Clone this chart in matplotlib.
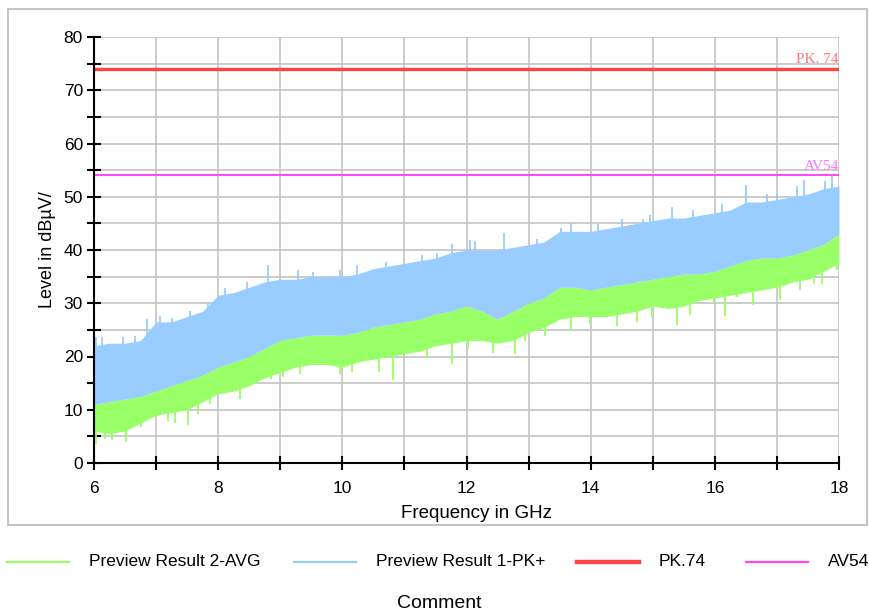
import matplotlib
matplotlib.use("Agg")
import matplotlib.pyplot as plt
import numpy as np
from matplotlib.patches import Rectangle
from matplotlib.lines import Line2D

plt.rcParams['font.family'] = ['Liberation Sans', 'DejaVu Sans']

freq = [6.0, 6.25, 6.5, 6.75, 7.0, 7.25, 7.5, 7.75, 8.0, 8.25, 8.5, 8.75,
        9.0, 9.25, 9.5, 9.75, 10.0, 10.25, 10.5, 10.75, 11.0, 11.25, 11.5, 11.75,
        12.0, 12.25, 12.5, 12.75, 13.0, 13.25, 13.5, 13.75, 14.0, 14.25, 14.5, 14.75,
        15.0, 15.25, 15.5, 15.75, 16.0, 16.25, 16.5, 16.75, 17.0, 17.25, 17.5, 17.75, 18.0]

# Preview Result 1-PK+ : upper envelope
pk_hi = [22, 22.5, 22.5, 23, 26.5, 26.5, 27.5, 28.5, 31.5, 32, 33, 34,
         34.5, 34.5, 35, 35, 35, 35.5, 36.5, 37, 37.5, 38, 38.5, 39.5,
         40, 40, 40, 40.5, 41, 41.5, 43.5, 43.5, 43.5, 44, 44.5, 45,
         45.5, 46, 46, 46.5, 47, 47.5, 49, 49, 49.5, 50, 50.5, 51.5, 52]
# boundary between PK+ (above) and AVG (below)
pk_lo = [11, 11.5, 12, 12.5, 13.5, 14.5, 15.5, 16.5, 18, 19, 20, 21.5,
         23, 23.5, 24, 24, 24, 24.5, 25.5, 26, 26.5, 27, 28, 28.5,
         29.5, 28.5, 27, 28.5, 30, 31, 33, 33, 32.5, 33, 33.5, 34,
         34.5, 35, 35.5, 35.5, 36, 37, 38, 38.5, 38.5, 39, 40, 41, 43]
# Preview Result 2-AVG : lower envelope
avg_lo = [6, 5.5, 6, 7.5, 9, 9.5, 10, 11.5, 13, 13.5, 14.5, 16,
          17, 18, 18.5, 18.5, 18, 19, 19.5, 20, 20.5, 21, 22, 22.5,
          23, 23, 22.5, 23, 24.5, 25.5, 27, 27.5, 27.5, 27.5, 28, 28.5,
          29.5, 29, 29.5, 30.5, 31, 31.5, 32, 32.5, 33, 34, 34.5, 36, 37.5]

# individual spikes
pk_spike_f = [6.04, 6.13, 6.47, 6.66, 6.85, 7.06, 7.25, 7.55, 7.84, 8.11, 8.46, 8.80,
              9.29, 9.53, 9.97, 10.24, 10.71, 11.28, 11.52, 11.77, 12.06,
              12.14, 12.61, 13.13, 13.53, 13.69, 14.12, 14.50, 14.85, 14.96,
              15.31, 15.65, 16.11, 16.51, 16.84, 17.0, 17.32, 17.43, 17.78, 17.88]
pk_spike_v = [23.7, 23.6, 23.7, 23.9, 27.1, 27.6, 27.2, 28.6, 30.1, 32.9, 33.9, 37.1,
              36.2, 35.9, 36.2, 37.2, 37.7, 39.0, 39.4, 41.2, 41.8,
              41.7, 43.1, 42.1, 44.2, 45.1, 44.9, 45.8, 45.8, 46.6,
              48.0, 47.5, 48.6, 52.2, 50.5, 50.6, 52.1, 53.1, 53.0, 53.9]
avg_spike_f = [6.04, 6.18, 6.29, 6.52, 6.75, 7.02, 7.19, 7.31, 7.51, 7.68, 7.87, 8.35, 8.85,
               9.05, 9.32, 9.96, 10.15, 10.59, 10.82, 11.36, 11.77,
               12.03, 12.43, 12.78, 12.94, 13.26, 13.69, 13.99, 14.42, 14.74,
               14.98, 15.39, 15.6, 15.98, 16.17, 16.35, 16.62, 17.05, 17.37, 17.59, 17.72, 17.96]
avg_spike_v = [3.6, 4.5, 4.3, 3.9, 6.7, 8.9, 7.8, 7.6, 7.1, 9.2, 11.1, 12.0, 15.7,
               16.1, 16.7, 16.7, 17.0, 17.0, 15.6, 19.8, 18.6,
               21.4, 20.6, 20.4, 23.0, 23.9, 24.9, 26.1, 25.8, 26.4,
               27.5, 25.9, 27.8, 30.0, 27.6, 31.2, 29.7, 30.6, 32.5, 33.7, 33.7, 36.2]

limit_pk = 74
limit_av = 54

c_green = '#99ff66'
c_blue = '#99ccff'
c_red = '#ff4444'
c_mag = '#ff44ff'

fig = plt.figure(figsize=(8.69, 6.12), dpi=100)
W, H = 869.0, 612.0

# outer frame
fig.patches.append(Rectangle((8/W, 1-525/H), (867-8)/W, (525-9)/H,
                             transform=fig.transFigure, fill=False,
                             edgecolor='#c4c4c4', linewidth=1.5))

ax = fig.add_axes([94/W, 1-463/H, (839-94)/W, (463-37)/H])

ax.fill_between(freq, avg_lo, pk_lo, color=c_green, linewidth=0, zorder=2)
g_base = np.interp(avg_spike_f, freq, avg_lo) + 1.0
ax.vlines(avg_spike_f, avg_spike_v, g_base, color=c_green, linewidth=1.3, zorder=2)
ax.fill_between(freq, pk_lo, pk_hi, color=c_blue, linewidth=0, zorder=3)
b_base = np.interp(pk_spike_f, freq, pk_hi) - 1.0
ax.vlines(pk_spike_f, b_base, pk_spike_v, color=c_blue, linewidth=1.3, zorder=3)

ax.axhline(limit_pk, color=c_red, linewidth=2.4, zorder=4)
ax.axhline(limit_av, color=c_mag, linewidth=1.4, zorder=4)
ax.text(18, limit_pk + 0.5, 'PK. 74', color='#ff7777', ha='right', va='bottom',
        family=['Liberation Serif', 'DejaVu Serif'], fontsize=11, zorder=5)
ax.text(18, limit_av + 0.5, 'AV54', color='#ff77ff', ha='right', va='bottom',
        family=['Liberation Serif', 'DejaVu Serif'], fontsize=11, zorder=5)

ax.set_xlim(6, 18)
ax.set_ylim(0, 80)
ax.set_xticks([6, 8, 10, 12, 14, 16, 18])
ax.set_xticks([7, 9, 11, 13, 15, 17], minor=True)
ax.set_yticks([0, 10, 20, 30, 40, 50, 60, 70, 80])
ax.set_yticks([5, 15, 25, 35, 45, 55, 65, 75], minor=True)
ax.grid(True, which='both', color='#c4c4c4', linewidth=1.2, zorder=0)
ax.set_axisbelow(True)
for s in ['top', 'right']:
    ax.spines[s].set_visible(False)
for s in ['left', 'bottom']:
    ax.spines[s].set_linewidth(1.5)
    ax.spines[s].set_zorder(6)
ax.tick_params(which='both', direction='inout', length=10, width=1.5, labelsize=12.5)
ax.tick_params(axis='x', pad=8)
ax.tick_params(axis='y', pad=3)
ax.set_xlabel('Frequency in GHz', fontsize=13.5)
ax.xaxis.set_label_coords((476-94)/745, -(513-463)/426)
ax.xaxis.label.set_va('center')
ax.set_ylabel('Level in dBµV/', fontsize=13)
ax.yaxis.set_label_coords(-(94-47)/745, 0.5)
ax.yaxis.label.set_va('center')

# legend (drawn manually to match the original spacing)
leg_colors = [c_green, c_blue, c_red, c_mag]
leg_widths = [1.6, 1.6, 3.2, 1.6]
leg_labels = ['Preview Result 2-AVG', 'Preview Result 1-PK+', 'PK.74', 'AV54']
leg_x0 = [7, 294, 577, 746]
leg_y = 1 - 562/H
for x0, c, lw, lab in zip(leg_x0, leg_colors, leg_widths, leg_labels):
    fig.add_artist(Line2D([x0/W, (x0+62)/W], [leg_y, leg_y], color=c, linewidth=lw,
                          transform=fig.transFigure))
    fig.text((x0+82)/W, leg_y, lab, ha='left', va='center', fontsize=12.5)
fig.text(439/W, 1-603/H, 'Comment', ha='center', va='center', fontsize=14)

fig.savefig('out.png', dpi=100)
